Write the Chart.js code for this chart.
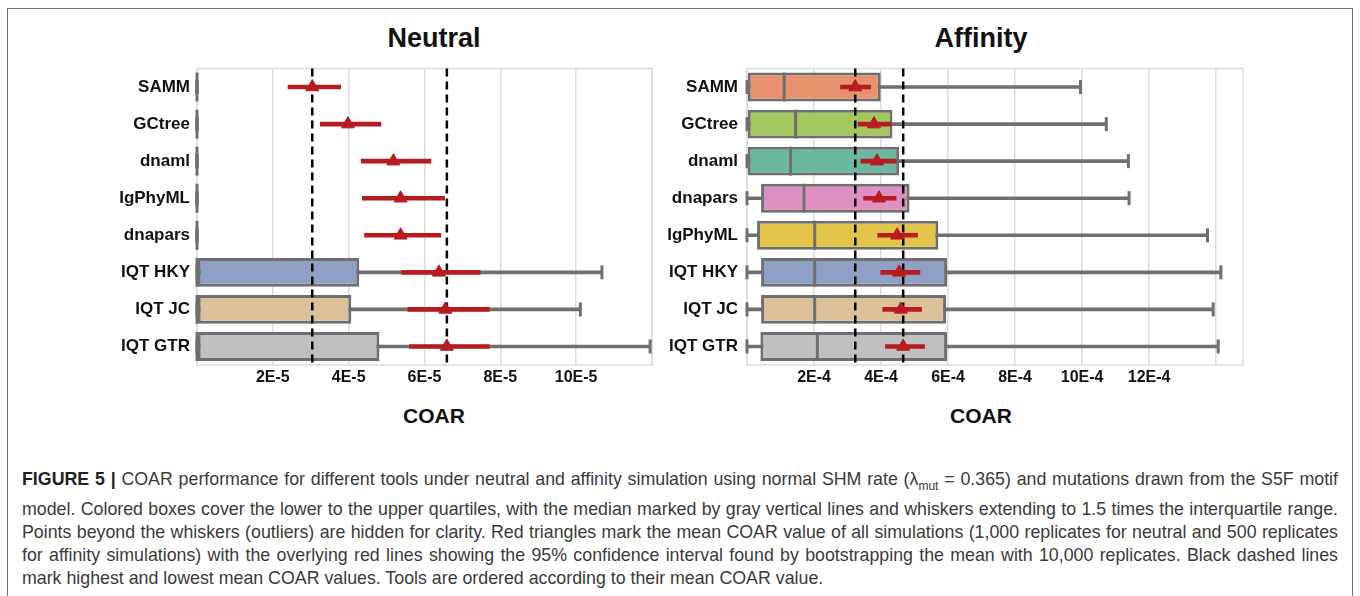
<!DOCTYPE html>
<html>
<head>
<meta charset="utf-8">
<script src="https://cdn.jsdelivr.net/npm/chart.js@4"></script>
<style>
  body { margin: 0; background: #fff; width: 1360px; height: 596px; overflow: hidden; position: relative;
         font-family: "Liberation Sans", Arial, sans-serif; }
  #frame { position: absolute; left: 7px; top: 8px; width: 1346px; height: 600px; border: 1.5px solid #707070; box-sizing: border-box; }
  canvas { position: absolute; }
  .title { position: absolute; width: 240px; text-align: center; font-weight: bold; color: #111; }
  .panel { font-size: 27px; line-height: 30px; top: 23px; }
  .axis { font-size: 21px; line-height: 24px; top: 404px; }
  #caption { position: absolute; left: 22px; top: 468px; font-size: 17.8px; line-height: 23px; color: #3a3a3a; }
  #caption div { white-space: nowrap; width: max-content; }
  #caption b { color: #222; }
</style>
</head>
<body>
<div id="frame"></div>
<div class="title panel" style="left:314px">Neutral</div>
<div class="title panel" style="left:861px">Affinity</div>
<div class="title axis" style="left:314px">COAR</div>
<div class="title axis" style="left:861px">COAR</div>
<canvas id="neutral" width="650" height="375" style="left:20px;top:60px"></canvas>
<canvas id="affinity" width="700" height="375" style="left:640px;top:60px"></canvas>
<div id="caption">
  <div class="j"><b>FIGURE 5 |</b> COAR performance for different tools under neutral and affinity simulation using normal SHM rate (λ<sub style="font-size:12px">mut</sub> = 0.365) and mutations drawn from the S5F motif</div>
  <div class="j">model. Colored boxes cover the lower to the upper quartiles, with the median marked by gray vertical lines and whiskers extending to 1.5 times the interquartile range.</div>
  <div class="j">Points beyond the whiskers (outliers) are hidden for clarity. Red triangles mark the mean COAR value of all simulations (1,000 replicates for neutral and 500 replicates</div>
  <div class="j">for affinity simulations) with the overlying red lines showing the 95% confidence interval found by bootstrapping the mean with 10,000 replicates. Black dashed lines</div>
  <div>mark highest and lowest mean COAR values. Tools are ordered according to their mean COAR value.</div>
</div>
<script>
// neutral simulation
const neutralTools = ["SAMM", "GCtree", "dnaml", "IgPhyML", "dnapars", "IQT HKY", "IQT JC", "IQT GTR"];
const neutralQ1 = [0, 0, 0, 0, 0, 0, 0, 0];
const neutralMedian = [0, 0, 0, 0, 0, 0, 0, 0];
const neutralQ3 = [0, 0, 0, 0, 0, 4.28e-5, 4.07e-5, 4.81e-5];
const neutralWhiskerLo = [0, 0, 0, 0, 0, 0, 0, 0];
const neutralWhiskerHi = [0, 0, 0, 0, 0, 10.68e-5, 10.11e-5, 11.95e-5];
const neutralMean = [3.04e-5, 3.98e-5, 5.18e-5, 5.37e-5, 5.37e-5, 6.38e-5, 6.55e-5, 6.59e-5];
const neutralCiLo = [2.40e-5, 3.25e-5, 4.33e-5, 4.36e-5, 4.42e-5, 5.40e-5, 5.56e-5, 5.60e-5];
const neutralCiHi = [3.79e-5, 4.85e-5, 6.17e-5, 6.53e-5, 6.43e-5, 7.47e-5, 7.71e-5, 7.71e-5];
const neutralTickValues = [0, 2e-5, 4e-5, 6e-5, 8e-5, 10e-5, 12e-5];
const neutralTickLabels = ["", "2E-5", "4E-5", "6E-5", "8E-5", "10E-5", ""];

// affinity simulation
const affinityTools = ["SAMM", "GCtree", "dnaml", "dnapars", "IgPhyML", "IQT HKY", "IQT JC", "IQT GTR"];
const affinityQ1 = [0, 0, 0, 0.42e-4, 0.30e-4, 0.42e-4, 0.42e-4, 0.40e-4];
const affinityMedian = [1.11e-4, 1.45e-4, 1.30e-4, 1.70e-4, 2.02e-4, 2.02e-4, 2.02e-4, 2.10e-4];
const affinityQ3 = [3.99e-4, 4.34e-4, 4.54e-4, 4.85e-4, 5.71e-4, 5.97e-4, 5.94e-4, 5.97e-4];
const affinityWhiskerLo = [0, 0, 0, 0, 0, 0, 0, 0];
const affinityWhiskerHi = [9.95e-4, 10.72e-4, 11.38e-4, 11.40e-4, 13.74e-4, 14.14e-4, 13.91e-4, 14.06e-4];
const affinityMean = [3.23e-4, 3.79e-4, 3.88e-4, 3.94e-4, 4.48e-4, 4.54e-4, 4.59e-4, 4.66e-4];
const affinityCiLo = [2.79e-4, 3.31e-4, 3.40e-4, 3.48e-4, 3.90e-4, 3.99e-4, 4.05e-4, 4.13e-4];
const affinityCiHi = [3.69e-4, 4.30e-4, 4.45e-4, 4.45e-4, 5.09e-4, 5.16e-4, 5.21e-4, 5.30e-4];
const affinityTickValues = [0, 2e-4, 4e-4, 6e-4, 8e-4, 10e-4, 12e-4, 14e-4];
const affinityTickLabels = ["", "2E-4", "4E-4", "6E-4", "8E-4", "10E-4", "12E-4", ""];

const toolColors = {
  "SAMM": "#e8926f", "GCtree": "#a3c95e", "dnaml": "#6bb8a0", "dnapars": "#de8fc3",
  "IgPhyML": "#e2c449", "IQT HKY": "#8fa0c6", "IQT JC": "#dbc19b", "IQT GTR": "#c0c0c0"
};
const GRAY = "#6f6f6f";
const RED = "#b81c20";
const FONT = "'Liberation Sans', Arial, sans-serif";

// frame, whisker caps, medians and the dashed min/max mean lines
const overlay = {
  id: "overlay",
  beforeDatasetsDraw(chart) {
    const { ctx, chartArea: a } = chart;
    ctx.save();
    ctx.strokeStyle = "#dcdcdc";
    ctx.lineWidth = 1.5;
    ctx.strokeRect(a.left, a.top, a.right - a.left, a.bottom - a.top);
    ctx.restore();
  },
  beforeDatasetDraw(chart, args) {
    if (chart.data.datasets[args.index].label !== "ci") return;
    const { ctx, chartArea: a, scales } = chart;
    const means = chart.data.datasets[0].data;
    ctx.save();
    ctx.strokeStyle = "#000";
    ctx.lineWidth = 2.5;
    ctx.setLineDash([8, 5]);
    [Math.min(...means), Math.max(...means)].forEach((v) => {
      const x = scales.x.getPixelForValue(v);
      ctx.beginPath();
      ctx.moveTo(x, a.top);
      ctx.lineTo(x, a.bottom);
      ctx.stroke();
    });
    ctx.restore();
  },
  afterDatasetDraw(chart, args) {
    const ds = chart.data.datasets[args.index];
    const { ctx, scales } = chart;
    const els = args.meta.data;
    ctx.save();
    ctx.strokeStyle = GRAY;
    ctx.lineWidth = 3;
    if (ds.label === "whisker") {
      ds.data.forEach((d, i) => {
        d.forEach((v) => {
          const x = scales.x.getPixelForValue(v);
          ctx.beginPath();
          ctx.moveTo(x, els[i].y - 7);
          ctx.lineTo(x, els[i].y + 7);
          ctx.stroke();
        });
      });
    }
    if (ds.label === "box") {
      ds.medians.forEach((v, i) => {
        const x = scales.x.getPixelForValue(v);
        const h = els[i].height / 2;
        ctx.beginPath();
        ctx.moveTo(x, els[i].y - h);
        ctx.lineTo(x, els[i].y + h);
        ctx.stroke();
      });
    }
    ctx.restore();
  }
};

function boxChart(id, p) {
  new Chart(document.getElementById(id), {
    type: "bar",
    data: {
      labels: p.tools,
      datasets: [
        {
          type: "line", label: "mean", data: p.mean, showLine: false,
          pointStyle: "triangle", pointRadius: 7.5,
          pointBackgroundColor: RED, pointBorderColor: RED, pointBorderWidth: 1, order: 0
        },
        {
          label: "ci", data: p.ciLo.map((v, i) => [v, p.ciHi[i]]),
          backgroundColor: RED, barThickness: 4, grouped: false, order: 1
        },
        {
          label: "box", data: p.q1.map((v, i) => [v, p.q3[i]]), medians: p.median,
          backgroundColor: p.tools.map((t) => toolColors[t]),
          borderColor: GRAY, borderWidth: 3, borderSkipped: false,
          barPercentage: 0.78, categoryPercentage: 1, grouped: false, order: 2
        },
        {
          label: "whisker", data: p.wLo.map((v, i) => [v, p.wHi[i]]),
          backgroundColor: GRAY, barThickness: 3, grouped: false, order: 3
        }
      ]
    },
    options: {
      indexAxis: "y",
      responsive: false,
      animation: false,
      devicePixelRatio: 1,
      layout: { padding: { top: 6, right: p.padRight, bottom: 0, left: 0 } },
      plugins: { legend: { display: false }, tooltip: { enabled: false } },
      scales: {
        x: {
          type: "linear", min: 0, max: p.max,
          afterBuildTicks: (s) => { s.ticks = p.tickValues.map((v) => ({ value: v })); },
          afterFit: (s) => { s.height = 70; s.paddingLeft = 0; s.paddingRight = 0; },
          ticks: {
            callback: (v, i) => p.tickLabels[i], autoSkip: false, maxRotation: 0,
            font: { family: FONT, size: 16, weight: "bold" }, color: "#111", padding: 3
          },
          grid: { color: "#dcdcdc", lineWidth: 1.5, drawTicks: false },
          border: { display: false }
        },
        y: {
          afterFit: (s) => { s.width = p.yWidth; s.paddingTop = 0; s.paddingBottom = 0; },
          ticks: { font: { family: FONT, size: 17, weight: "bold" }, color: "#111", padding: p.labelPad },
          grid: { display: false, drawTicks: false },
          border: { display: false }
        }
      }
    },
    plugins: [overlay]
  });
}

boxChart("neutral", {
  tools: neutralTools, q1: neutralQ1, median: neutralMedian, q3: neutralQ3,
  wLo: neutralWhiskerLo, wHi: neutralWhiskerHi, mean: neutralMean, ciLo: neutralCiLo, ciHi: neutralCiHi,
  max: 12e-5, tickValues: neutralTickValues, tickLabels: neutralTickLabels,
  yWidth: 177, padRight: 18, labelPad: 7
});
boxChart("affinity", {
  tools: affinityTools, q1: affinityQ1, median: affinityMedian, q3: affinityQ3,
  wLo: affinityWhiskerLo, wHi: affinityWhiskerHi, mean: affinityMean, ciLo: affinityCiLo, ciHi: affinityCiHi,
  max: 14.8e-4, tickValues: affinityTickValues, tickLabels: affinityTickLabels,
  yWidth: 107, padRight: 97, labelPad: 9
});

// justify caption lines to the frame width
document.querySelectorAll("#caption .j").forEach((el) => {
  const w = el.getBoundingClientRect().width;
  const gaps = (el.textContent.trim().match(/ +/g) || []).length;
  el.style.wordSpacing = ((1316 - w) / gaps) + "px";
});
</script>
</body>
</html>
